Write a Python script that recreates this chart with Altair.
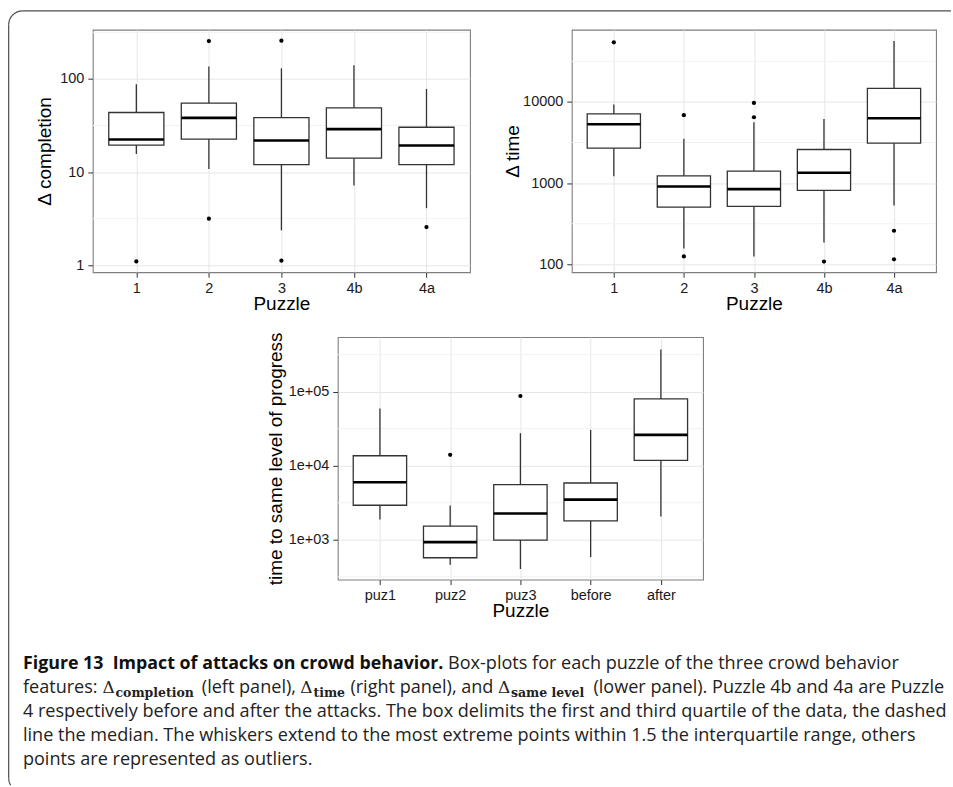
import altair as alt
import pandas as pd

# ---------------- data ----------------
puzzles = ["1", "2", "3", "4b", "4a"]
comp_low = [15.6, 10.8, 2.37, 7.2, 4.1]
comp_q1 = [19.5, 22.6, 12.0, 14.1, 12.0]
comp_med = [22.4, 38.2, 21.8, 28.9, 19.3]
comp_q3 = [43.6, 54.9, 38.5, 48.9, 30.3]
comp_high = [87.7, 135.6, 130.0, 140.0, 78.1]
comp_out_puzzle = ["1", "2", "2", "3", "3", "4a"]
comp_out_value = [1.1, 255, 3.16, 257, 1.12, 2.57]

time_low = [1219, 157, 125, 185, 531]
time_q1 = [2692, 507, 516, 813, 3104]
time_med = [5313, 910, 844, 1340, 6300]
time_q3 = [7118, 1231, 1405, 2594, 14720]
time_high = [9270, 3508, 5623, 6180, 56200]
time_out_puzzle = ["1", "2", "2", "3", "3", "4b", "4a", "4a"]
time_out_value = [54200, 6855, 125, 9720, 6474, 108, 259, 115]

levels = ["puz1", "puz2", "puz3", "before", "after"]
same_low = [1878, 461, 403, 585, 2060]
same_q1 = [2927, 572, 990, 1802, 11800]
same_med = [5970, 931, 2262, 3490, 26100]
same_q3 = [13640, 1527, 5550, 5845, 79700]
same_high = [59050, 2897, 27500, 30500, 371000]
same_out_level = ["puz2", "puz3"]
same_out_value = [14060, 87400]

ticks_comp = [1, 10, 100]
ticks_time = [100, 1000, 10000]
ticks_same = [1000, 10000, 100000]
minor_comp = [3.162, 31.62, 316.2]
minor_time = [316.2, 3162, 31623]
minor_same = [316.2, 3162, 31623, 316228]

cap_bold = "Figure 13\u00a0 Impact of attacks on crowd behavior."
cap_line1 = "Box-plots for each puzzle of the three crowd behavior"
cap_line3 = "4 respectively before and after the attacks. The box delimits the first and third quartile of the data, the dashed"
cap_line4 = "line the median. The whiskers extend to the most extreme points within 1.5 the interquartile range, others"
cap_line5 = "points are represented as outliers."
cap_line2 = [("sans", "features:"), ("delta", "\u0394"), ("sub", "completion"),
             ("sans", "(left panel),"), ("delta", "\u0394"), ("sub", "time"),
             ("sans", "(right panel), and"), ("delta", "\u0394"), ("sub", "same level"),
             ("sans", "(lower panel). Puzzle 4b and 4a are Puzzle")]

# ---------------- layout ----------------
H = 243
W_LEFT, W_RIGHT, W_BOT = 378, 365, 366
X0, Y_TOP = 92, 28
Y_BOT = 336
Y_CAP = 644
HSP = 102
FONT = "Liberation Sans"
CAP_FONT = "Open Sans"

OS = {' ': 532, '(': 596, ')': 596, ',': 500, '-': 659, '.': 545, ':': 545,
      'B': 1313, 'F': 1096, 'I': 600, 'P': 1235, 'T': 1133,
      'a': 1139, 'b': 1255, 'c': 975, 'd': 1255, 'e': 1149, 'f': 694, 'g': 1122,
      'h': 1257, 'i': 518, 'k': 1075, 'l': 518, 'm': 1905, 'n': 1257, 'o': 1237,
      'p': 1255, 'q': 1255, 'r': 836, 's': 977, 't': 723, 'u': 1257, 'v': 1026,
      'w': 1593, 'x': 1073, 'y': 1028, 'z': 946}
DSB = {'c': .593, 'o': .644, 'm': .981, 'p': .705, 'l': .365, 'e': .618, 't': .435,
       'i': .365, 'n': .712, 's': .556, 'a': .647, 'v': .652, ' ': .348}


def w_os(s, fs):
    return sum(OS.get(c, 1171) for c in s) / 2048.0 * fs


CAP_FS = 926.0 / w_os(cap_line3, 1.0)
SUB_FS = 12.5
DELTA_FS = 17


def make_panel(cats, low, q1, med, q3, high, out_cats, out_vals, ytitle, ydomain,
               yticks, minor, width, ytitle_x, label_expr=None):
    stats = pd.DataFrame(dict(cat=cats, low=low, q1=q1, med=med, q3=q3, high=high))
    outl = pd.DataFrame(dict(cat=out_cats, v=out_vals))
    grid = pd.DataFrame(dict(g=minor))
    step = width / 5.2
    bw = 0.76 * step
    xsc = alt.Scale(type="point", domain=cats, padding=0.6)
    ysc = alt.Scale(type="log", domain=ydomain, nice=False)
    xax = alt.Axis(title="Puzzle", labelAngle=0, grid=True, tickSize=5, labelPadding=15,
                   labelBaseline="alphabetic", titleX=width / 2, titleY=37,
                   titleBaseline="alphabetic", titleAlign="center")
    ykw = dict(title=ytitle, values=yticks, grid=True, tickSize=5, labelPadding=4,
               titleAngle=270, titleX=ytitle_x, titleY=H / 2, titleAlign="center",
               titleBaseline="alphabetic", labelOverlap=False)
    if label_expr:
        ykw["labelExpr"] = label_expr
    else:
        ykw["format"] = "d"
    yax = alt.Axis(**ykw)
    X = alt.X("cat:N", scale=xsc, axis=xax, sort=cats)
    minor_l = alt.Chart(grid).mark_rule(color="#f2f2f2", strokeWidth=1).encode(
        y=alt.Y("g:Q", scale=ysc, axis=yax))
    whisk = alt.Chart(stats).mark_rule(color="#333333", strokeWidth=1.3).encode(
        x=X, y=alt.Y("low:Q", scale=ysc, axis=yax), y2="high:Q")
    box = alt.Chart(stats).mark_bar(size=bw, fill="white", stroke="#333333",
                                    strokeWidth=1.3, opacity=1).encode(
        x=X, y=alt.Y("q1:Q", scale=ysc, axis=yax), y2="q3:Q")
    medl = alt.Chart(stats).mark_tick(size=bw, thickness=2.6, color="black", opacity=1).encode(
        x=X, y=alt.Y("med:Q", scale=ysc, axis=yax))
    pts = alt.Chart(outl).mark_circle(size=18, color="black", opacity=1).encode(
        x=X, y=alt.Y("v:Q", scale=ysc, axis=yax))
    return alt.layer(minor_l, whisk, box, medl, pts).properties(width=width, height=H)


left = make_panel(puzzles, comp_low, comp_q1, comp_med, comp_q3, comp_high,
                  comp_out_puzzle, comp_out_value, "\u0394 completion", [0.841, 337],
                  ticks_comp, minor_comp, W_LEFT, -42)
right = make_panel(puzzles, time_low, time_q1, time_med, time_q3, time_high,
                   time_out_puzzle, time_out_value, "\u0394 time", [79.8, 77400],
                   ticks_time, minor_time, W_RIGHT, -53.7)
bottom = make_panel(levels, same_low, same_q1, same_med, same_q3, same_high,
                    same_out_level, same_out_value, "time to same level of progress",
                    [290, 545000], ticks_same, minor_same, W_BOT, -56.3,
                    label_expr="'1e+0' + round(log(datum.value) / LN10)")

dummy = pd.DataFrame({"a": [0]})
spacer = alt.Chart(dummy).mark_point(opacity=0).encode(
    x=alt.value(0), y=alt.value(0)).properties(
    width=1, height=H, view=alt.ViewBackground(stroke="transparent"))


# ---------------- caption + frame ----------------
def txt(s, x, y, font, size, weight="normal", color="#222222"):
    return alt.Chart(dummy).mark_text(text=s, font=font, fontSize=size, fontWeight=weight,
                                      align="left", baseline="alphabetic", color=color).encode(
        x=alt.value(x - X0), y=alt.value(y - Y_CAP))


base_y = [669, 693, 717, 741, 765]
layers = []
layers.append(alt.Chart(dummy).mark_rect(opacity=0).encode(
    x=alt.value(-X0), x2=alt.value(953 - X0), y=alt.value(-Y_CAP), y2=alt.value(787 - Y_CAP)))
FRAME = "#4d4d4d"
layers.append(alt.Chart(dummy).mark_rule(color=FRAME, strokeWidth=1.2).encode(
    x=alt.value(21.7 - X0), x2=alt.value(952 - X0), y=alt.value(9 - Y_CAP)))
layers.append(alt.Chart(dummy).mark_rule(color=FRAME, strokeWidth=1.2).encode(
    x=alt.value(7.7 - X0), y=alt.value(23 - Y_CAP), y2=alt.value(778 - Y_CAP)))
layers.append(alt.Chart(dummy).mark_arc(theta=4.7124, theta2=6.2832, radius=14.6,
                                        radius2=13.4, color=FRAME).encode(
    x=alt.value(21.7 - X0), y=alt.value(23 - Y_CAP)))
layers.append(alt.Chart(dummy).mark_arc(theta=4.19, theta2=4.7124, radius=14.6,
                                        radius2=13.4, color=FRAME).encode(
    x=alt.value(21.7 - X0), y=alt.value(778 - Y_CAP)))

layers.append(txt(cap_bold, 22, base_y[0], CAP_FONT, CAP_FS * 0.985, "bold", "#111111"))
layers.append(txt(cap_line1, 448, base_y[0], CAP_FONT, CAP_FS))
x = 22.0
for kind, s in cap_line2:
    if kind == "sans":
        layers.append(txt(s, x, base_y[1], CAP_FONT, CAP_FS))
        x += w_os(s, CAP_FS) + w_os(" ", CAP_FS)
    elif kind == "delta":
        layers.append(txt(s, x, base_y[1], "DejaVu Serif", DELTA_FS))
        x += 0.77 * DELTA_FS
    else:
        layers.append(txt(s, x, base_y[1] + 3.5, "DejaVu Serif", SUB_FS, "bold"))
        x += sum(DSB.get(c, 0.6) for c in s) * 1.08 * SUB_FS + w_os(" ", CAP_FS)
layers.append(txt(cap_line3, 22, base_y[2], CAP_FONT, CAP_FS))
layers.append(txt(cap_line4, 22, base_y[3], CAP_FONT, CAP_FS))
layers.append(txt(cap_line5, 22, base_y[4], CAP_FONT, CAP_FS))

caption = alt.layer(*layers).properties(width=850, height=130,
                                        view=alt.ViewBackground(stroke="transparent"))

top_row = alt.hconcat(left, right, spacing=HSP, bounds="flush")
bot_row = alt.hconcat(spacer, bottom, spacing=337.5 - X0 - 1, bounds="flush")
# nested rows count as zero height in a flush layout, so the row spacing is the
# distance between the tops of consecutive rows
chart = alt.vconcat(top_row, bot_row, caption, spacing=Y_BOT - Y_TOP,
                    bounds="flush").properties(
    padding=0, background="white"
).configure_view(stroke="#7f7f7f", strokeWidth=1.1).configure_axis(
    domain=False, gridColor="#e6e6e6", gridWidth=1, tickColor="#333333", tickWidth=1,
    labelFont=FONT, labelFontSize=14.5, labelColor="#1a1a1a",
    titleFont=FONT, titleFontSize=19, titleFontWeight="normal", titleColor="#000000")

chart.save("out.html", embed_options={"renderer": "svg", "actions": False})
